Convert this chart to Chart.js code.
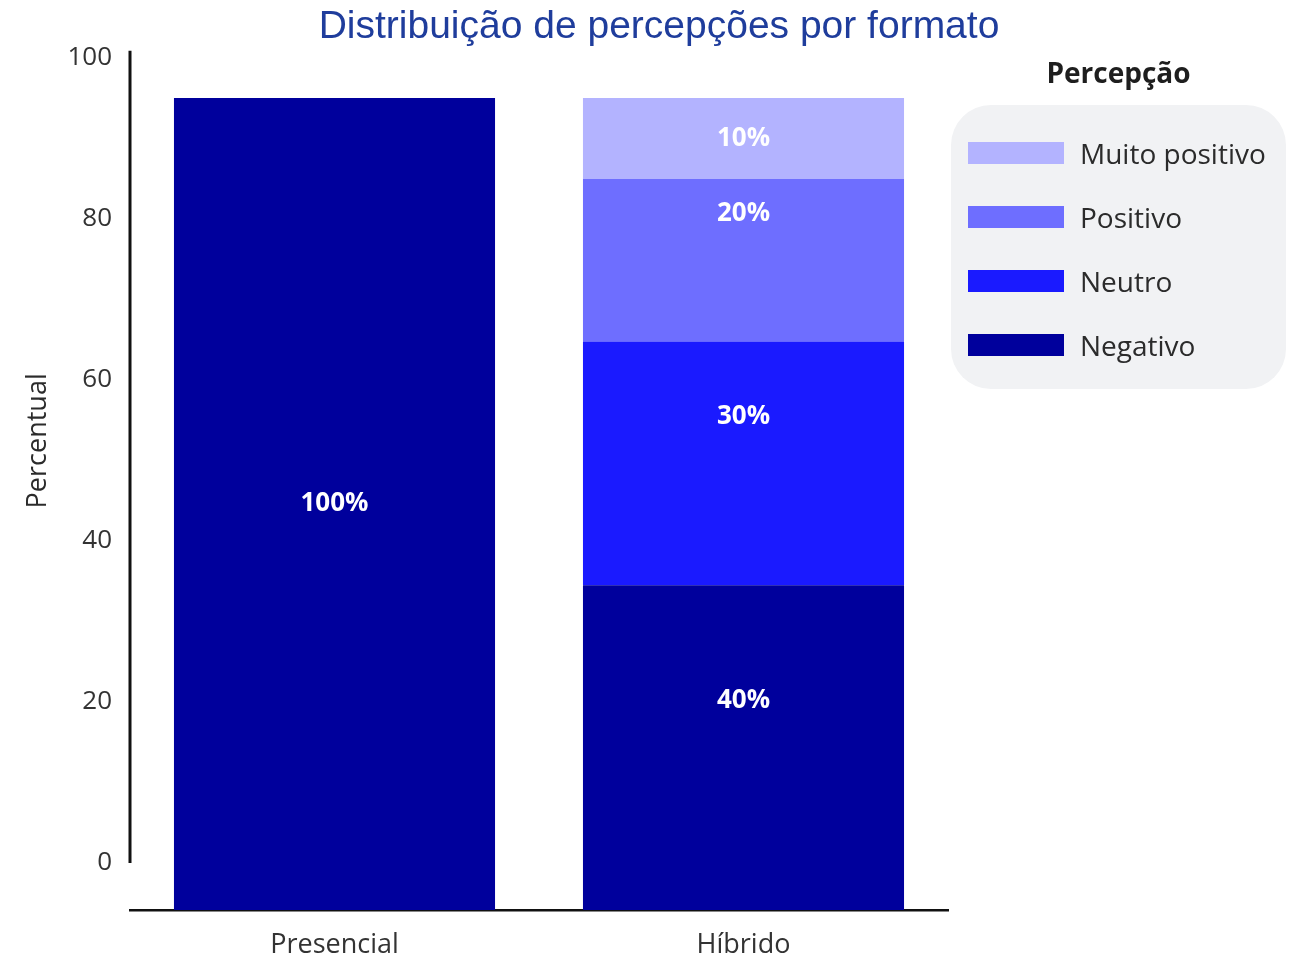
<!DOCTYPE html>
<html>
<head>
<meta charset="utf-8">
<script src="https://cdn.jsdelivr.net/npm/chart.js@4.4.1/dist/chart.umd.min.js"></script>
<style>
  html,body{ margin:0; padding:0; background:#fff; }
  #wrap{ position:relative; width:1300px; height:958px; font-family:"Open Sans", sans-serif; }
  #legend{ position:absolute; left:951px; top:56px; width:335px; }
  #legend h3{ margin:0 0 17px 0; text-align:center; font-size:28px; font-weight:700; color:#1e1e1e; height:32px; line-height:32px; }
  #legend .box{ background:#f1f2f4; border-radius:40px; height:284px; box-sizing:border-box; padding-top:37px; }
  #legend .row{ display:flex; align-items:center; height:22px; margin-bottom:42px; padding-left:17px; }
  #legend .sw{ width:96px; height:22px; margin-right:16px; flex:none; }
  #legend .lb{ font-size:28px; color:#2b2b2b; white-space:nowrap; }
</style>
</head>
<body>
<div id="wrap">
  <canvas id="c" width="1300" height="958"></canvas>
  <div id="legend"><h3 id="legTitle"></h3><div class="box" id="legBox"></div></div>
</div>
<script>
// data
const categories    = ['Presencial', 'Híbrido'];
const negativo      = [100, 40];
const neutro        = [0, 30];
const positivo      = [0, 20];
const muitoPositivo = [0, 10];
const yTicks        = [0, 20, 40, 60, 80, 100];
const legendTitle   = 'Percepção';

const FONT = '"Open Sans", sans-serif';
const $ = s => document.querySelector(s);

const datasets = [
  { label:'Negativo',       data:negativo,      backgroundColor:'#00009c' },
  { label:'Neutro',         data:neutro,        backgroundColor:'#1a1aff' },
  { label:'Positivo',       data:positivo,      backgroundColor:'#6e6eff' },
  { label:'Muito positivo', data:muitoPositivo, backgroundColor:'#b3b3ff' }
].map(d => ({ ...d, yAxisID:'yb', barPercentage:0.785, categoryPercentage:1, borderWidth:0 }));

// draws axis line, y title and in-bar labels
const extras = {
  id:'extras',
  afterDatasetsDraw(chart){
    const { ctx, chartArea:a, scales } = chart;
    const y = scales.y, yb = scales.yb;
    const shift = yb.getPixelForValue(0) - y.getPixelForValue(0);
    ctx.save();
    // labels
    ctx.fillStyle = '#fff';
    ctx.font = `700 26px ${FONT}`;
    ctx.textAlign = 'center'; ctx.textBaseline = 'middle';
    categories.forEach((_, i) => {
      let top = -1;
      chart.data.datasets.forEach((d, k) => { if (d.data[i] > 0) top = k; });
      chart.data.datasets.forEach((d, k) => {
        const v = d.data[i];
        if (!(v > 0)) return;
        const el = chart.getDatasetMeta(k).data[i];
        let cy = (el.y + el.base) / 2;
        if (k !== top) cy -= shift;
        ctx.fillText(v + '%', el.x, cy);
      });
    });
    // y axis line
    ctx.strokeStyle = '#111'; ctx.lineWidth = 3;
    ctx.beginPath();
    ctx.moveTo(a.left, a.top);
    ctx.lineTo(a.left, y.getPixelForValue(0));
    ctx.stroke();
    // y title
    ctx.fillStyle = '#2b2b2b';
    ctx.font = `400 27px ${FONT}`;
    ctx.translate(38, (a.top + y.getPixelForValue(0)) / 2 - 16);
    ctx.rotate(-Math.PI / 2);
    ctx.fillText('Percentual', 0, 0);
    ctx.restore();
  }
};

function buildChart(){
  return new Chart($('#c').getContext('2d'), {
    type:'bar',
    data:{ labels:categories, datasets },
    plugins:[extras],
    options:{
      responsive:false, animation:false,
      layout:{ padding:{ top:0, right:0, bottom:0, left:18 } },
      plugins:{
        legend:{ display:false },
        tooltip:{ enabled:false },
        title:{ display:true, text:'Distribuição de percepções por formato',
          color:'#1f3d9c', font:{ family:'"Liberation Sans", Arial, sans-serif', size:39, weight:'400' },
          padding:{ top:4, bottom:0 } }
      },
      scales:{
        x:{ stacked:true,
            grid:{ display:false, drawTicks:false },
            border:{ display:true, color:'#111', width:2.5 },
            ticks:{ color:'#333', font:{ family:FONT, size:27 }, padding:19 },
            afterFit: s => { s.height = 48; } },
        y:{ position:'left', min:-5.85, max:100.85,
            grid:{ display:false, drawTicks:false },
            border:{ display:false },
            ticks:{ color:'#333', font:{ family:FONT, size:26 }, padding:18 },
            afterBuildTicks: s => { s.ticks = yTicks.map(v => ({ value:v })); },
            afterFit: s => { s.width = 112; } },
        // bars live on this one; it only reserves room for the legend
        yb:{ position:'right', stacked:true, min:0, max:105.8,
             grid:{ display:false, drawTicks:false },
             border:{ display:false },
             ticks:{ display:false },
             afterFit: s => { s.width = 352; } }
      }
    }
  });
}

function buildLegend(){
  $('#legTitle').textContent = legendTitle;
  const box = $('#legBox');
  [...datasets].reverse().forEach(d => {
    const row = document.createElement('div');
    row.className = 'row';
    row.innerHTML = `<div class="sw" style="background:${d.backgroundColor}"></div><div class="lb">${d.label}</div>`;
    box.appendChild(row);
  });
}

buildChart();
buildLegend();
</script>
</body>
</html>
